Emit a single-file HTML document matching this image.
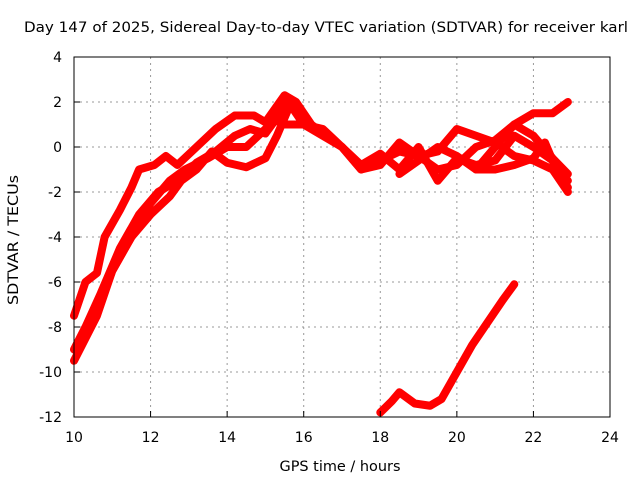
<!DOCTYPE html>
<html><head><meta charset="utf-8"><style>
html,body{margin:0;padding:0;background:#fff}
svg text{font-family:"DejaVu Sans","Liberation Sans",sans-serif;font-size:14px;fill:#000}
</style></head><body>
<svg width="640" height="480" xmlns="http://www.w3.org/2000/svg">
<text x="24" y="32" textLength="604" lengthAdjust="spacingAndGlyphs">Day 147 of 2025, Sidereal Day-to-day VTEC variation (SDTVAR) for receiver karl</text>
<g id="grid"></g><g id="series"></g>
<rect x="74" y="57" width="536" height="360" fill="none" stroke="#000" stroke-width="1"/>
<g id="ticks"></g>
<text x="340" y="471" text-anchor="middle" textLength="121" lengthAdjust="spacingAndGlyphs">GPS time / hours</text>
<text transform="translate(18,240) rotate(-90)" text-anchor="middle" textLength="130" lengthAdjust="spacingAndGlyphs">SDTVAR / TECUs</text>
</svg>
<script>
const xTicks=[10,12,14,16,18,20,22,24];
const yTicks=[4,2,0,-2,-4,-6,-8,-10,-12];
const s1=[[10,-7.5],[10.3,-6],[10.6,-5.6],[10.8,-4],[11.2,-2.8],[11.5,-1.8],[11.7,-1],[12.1,-0.8],[12.4,-0.4],[12.7,-0.8],[13.2,0],[13.7,0.8],[14.2,1.4],[14.7,1.4],[15,1.1],[15.5,2.3],[15.8,2.0],[16.2,1.0],[16.5,0.6],[17,0],[17.5,-1.0],[18,-0.8],[18.5,0.2],[19,-0.4],[19.5,-0.2],[20,0.8],[20.5,0.5],[21,0.2],[21.5,-0.4],[22,-0.6],[22.5,-1.0],[22.9,-2.0]];
const s2=[[10,-9.5],[10.3,-8.5],[10.6,-7.5],[11,-5.5],[11.5,-4],[12,-2.5],[12.5,-1.5],[12.9,-1.0],[13.5,-0.5],[14,0],[14.5,0],[15,0.8],[15.3,1.2],[15.5,1.0],[16,1.0],[16.5,0.5],[17,0],[17.5,-1.0],[18,-0.6],[18.5,-0.2],[19,-0.4],[19.5,-1.0],[20,-0.8],[20.5,0],[21,0.3],[21.5,1.0],[22,0.5],[22.5,-0.5],[22.9,-1.2]];
const s3=[[10,-9],[10.3,-8],[10.7,-6.5],[11.2,-4.5],[11.7,-3],[12.2,-2],[12.7,-1.5],[13.2,-0.7],[13.7,-0.2],[14.2,0.5],[14.6,0.8],[15,0.6],[15.3,1.3],[15.6,2.0],[16,1.0],[16.5,0.8],[17,0],[17.5,-0.8],[18,-0.3],[18.5,-1.0],[19,0],[19.5,-1.5],[20,-0.5],[20.5,-0.8],[21,-0.6],[21.5,0.5],[22,0],[22.5,-0.6],[22.9,-1.5]];
const s4=[[10.2,-8.5],[10.6,-7.3],[11,-5.5],[11.5,-4],[12,-3],[12.5,-2.2],[12.8,-1.5],[13.2,-1.0],[13.6,-0.2],[14,-0.7],[14.5,-0.9],[15,-0.5],[15.3,0.5],[15.6,1.7]];
const s5=[[18.5,-1.2],[19,-0.6],[19.5,0],[20,-0.4],[20.5,-1.0],[21,-1.0],[21.5,-0.8],[22,-0.5],[22.3,0.2],[22.6,-1.0],[22.9,-1.8]];
const s6=[[20.5,-1.0],[21,0],[21.5,1.0],[22,1.5],[22.5,1.5],[22.9,2.0]];
const s7=[[18,-11.8],[18.3,-11.3],[18.5,-10.9],[18.9,-11.4],[19.3,-11.5],[19.6,-11.2],[20,-10],[20.4,-8.8],[20.8,-7.8],[21.2,-6.8],[21.5,-6.1]];
const seriesList=[s1,s2,s3,s4,s5,s6,s7];
const X=v=>74+(v-10)*536/14, Y=v=>57+(4-v)*360/16;
const NS="http://www.w3.org/2000/svg";
const mk=(t,a,p)=>{const e=document.createElementNS(NS,t);for(const k in a)e.setAttribute(k,a[k]);p.appendChild(e);return e;};
const grid=document.getElementById('grid'),ticks=document.getElementById('ticks'),ser=document.getElementById('series');
xTicks.forEach(t=>{
 if(t>10&&t<24){const l=mk('line',{x1:X(t),x2:X(t),y1:57,y2:417,stroke:'#999','stroke-dasharray':'2,4'},grid);
 
 }
 mk('line',{x1:X(t),x2:X(t),y1:417,y2:411,stroke:'#000'},ticks);
 const tx=mk('text',{x:X(t),y:442,'text-anchor':'middle'},ticks);tx.textContent=t;
 
 
});
yTicks.forEach(t=>{
 if(t<4&&t>-12){const l=mk('line',{x1:74,x2:610,y1:Y(t),y2:Y(t),stroke:'#999','stroke-dasharray':'2,4'},grid);
 
 }
 mk('line',{x1:74,x2:80,y1:Y(t),y2:Y(t),stroke:'#000'},ticks);
 const tx=mk('text',{x:62,y:Y(t)+5,'text-anchor':'end'},ticks);tx.textContent=t;
 
 
});
seriesList.forEach((s,i)=>{
 const p=mk('polyline',{points:s.map(d=>X(d[0])+','+Y(d[1])).join(' '),fill:'none',stroke:'#f00','stroke-width':8,'stroke-linejoin':'round','stroke-linecap':'round'},ser);
 
 
});
</script>
</body></html>
